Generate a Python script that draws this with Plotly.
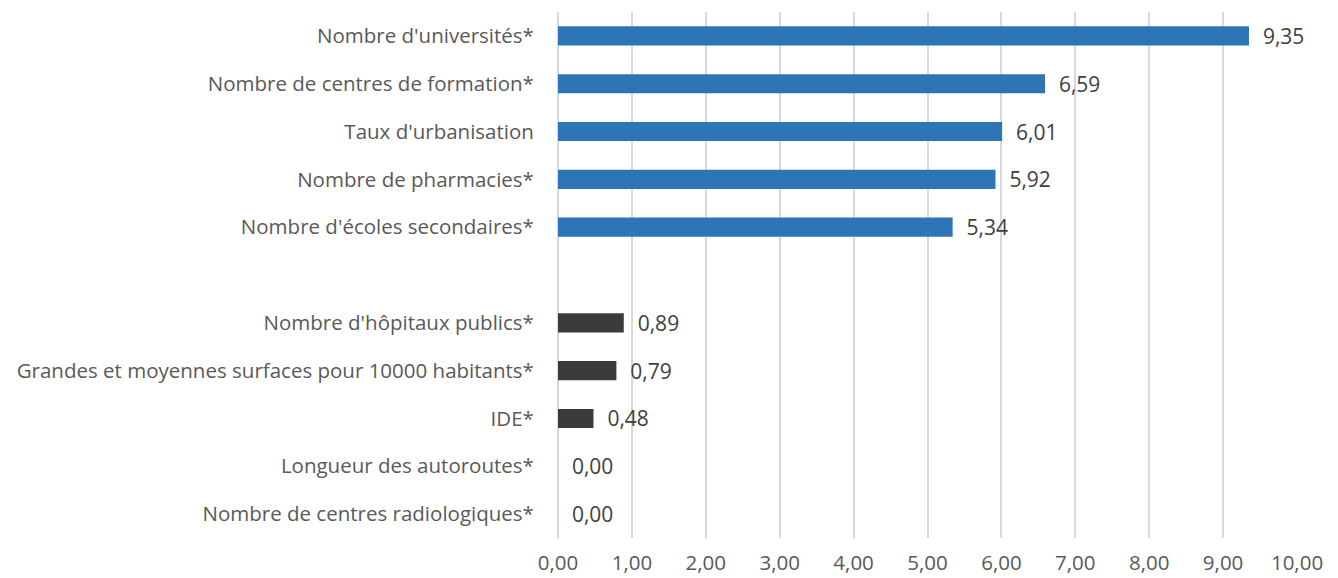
import plotly.graph_objects as go

categories = [
    "Nombre d'universités*",
    "Nombre de centres de formation*",
    "Taux d'urbanisation",
    "Nombre de pharmacies*",
    "Nombre d'écoles secondaires*",
    " ",
    "Nombre d'hôpitaux publics*",
    "Grandes et moyennes surfaces pour 10000 habitants*",
    "IDE*",
    "Longueur des autoroutes*",
    "Nombre de centres radiologiques*",
]
bar_categories = [c for c in categories if c.strip()]
values = [9.35, 6.59, 6.01, 5.92, 5.34, 0.89, 0.79, 0.48, 0.00, 0.00]
colors = ["#2E75B6"] * 5 + ["#3B3B3B"] * 5
tick_vals = list(range(0, 11))

fig = go.Figure()
fig.add_trace(go.Bar(
    x=values,
    y=bar_categories,
    orientation="h",
    marker=dict(color=colors, line=dict(width=0)),
    width=0.4,
    texttemplate="\u00a0\u00a0%{x:.2f}",
    textposition="outside",
    constraintext="none",
    textfont=dict(color="#404040", size=21),
    cliponaxis=False,
    hoverinfo="skip",
))

fig.update_layout(
    width=1330, height=570,
    margin=dict(l=550, r=41, t=4, b=40),
    paper_bgcolor="white",
    plot_bgcolor="white",
    separators=", ",
    font=dict(family="Open Sans, Noto Sans, sans-serif", color="#595959", size=21),
    showlegend=False,
)
fig.update_xaxes(
    range=[0, 10],
    tickvals=tick_vals,
    tickformat=".2f",
    showgrid=True,
    gridcolor="#D9D9D9",
    gridwidth=1.5,
    zeroline=True,
    zerolinecolor="#D9D9D9",
    zerolinewidth=1.5,
    showline=False,
    ticks="outside",
    ticklen=6,
    tickcolor="rgba(0,0,0,0)",
    tickfont=dict(size=20.5, color="#595959"),
    automargin=False,
)
fig.update_yaxes(
    type="category",
    categoryorder="array",
    categoryarray=categories,
    range=[10.5, -0.5],
    showgrid=False,
    zeroline=False,
    showline=False,
    ticks="outside",
    ticklen=19,
    tickcolor="rgba(0,0,0,0)",
    tickfont=dict(size=20.5, color="#595959"),
    automargin=False,
)

fig.write_html("out.html")
